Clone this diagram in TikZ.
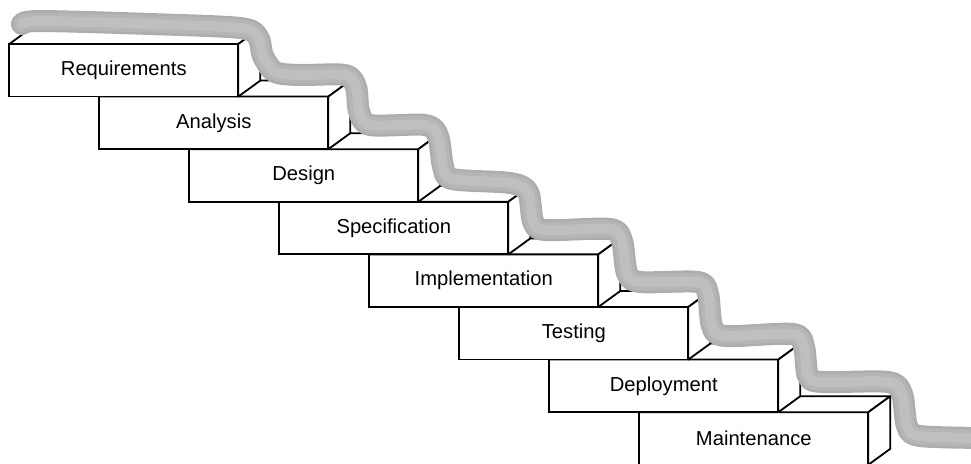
\documentclass[tikz,border=0pt]{standalone}
\usepackage{fontspec}
\setmainfont{Liberation Sans}

\tikzset{
  stepbox/.style={draw, fill=white, line width=0.9pt, outer sep=0pt, inner sep=0pt,
    minimum width=114.5pt, minimum height=26.3pt, font=\fontsize{10.1}{12}\selectfont},
  face/.style={draw, fill=white, line width=0.9pt, line join=round},
  flow/.style={line cap=round, line join=round}
}

\begin{document}
\begin{tikzpicture}[x=0.5pt, y=-0.5pt]
    \useasboundingbox (0,0) rectangle (971,464);
    % Steps, drawn from the lowest one up
    \foreach \i/\name in {7/Maintenance, 6/Deployment, 5/Testing, 4/Implementation,
                          3/Specification, 2/Design, 1/Analysis, 0/Requirements} {
        \node[stepbox] (step\i) at (123.8+90*\i, 70.3+52.6*\i) {\name};
        \draw[face] (step\i.north west) -- ++(22,-16) -- ++(229,0) -- (step\i.north east) -- cycle;
        \draw[face] (step\i.north east) -- ++(22,-16) -- ++(0,52.6) -- (step\i.south east) -- cycle;
    }
    % Water flowing down the stairs
    \foreach \w/\c in {11pt/black!32, 8.5pt/black!29, 5pt/black!25} {
        \draw[flow, line width=\w, \c] plot[smooth, tension=0.5] coordinates {
            (22,24) (40,21) (150,24) (240,28) (258,37) (263,56) (275,72) (300,75)
            (345,75) (356,87) (359,111) (370,125) (425,125) (438,136) (443,166)
            (452,179) (510,183) (528,192) (533,221) (545,230) (610,229) (622,241)
            (627,273) (640,282) (698,282) (708,294) (712,326) (725,336) (793,334)
            (804,347) (808,376) (822,382) (888,382) (902,394) (907,426) (920,436)
            (985,438)};
    }
\end{tikzpicture}
\end{document}
